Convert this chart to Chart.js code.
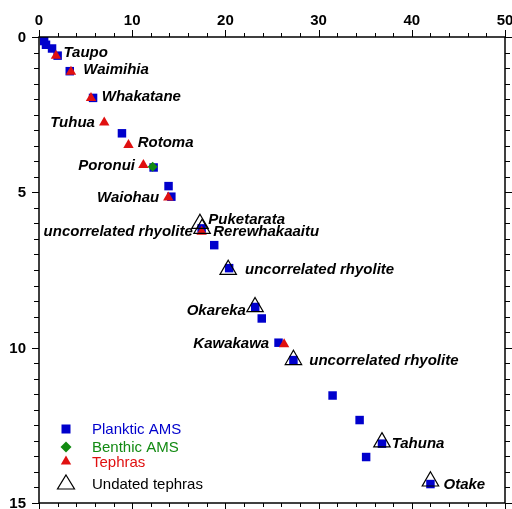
<!DOCTYPE html>
<html>
<head>
<meta charset="utf-8">
<script src="https://cdn.jsdelivr.net/npm/chart.js@4/dist/chart.umd.min.js"></script>
<style>
  html, body { margin: 0; padding: 0; background: #fff; }
  canvas { display: block; }
</style>
</head>
<body>
<canvas id="myChart" width="512" height="509"></canvas>
<script>
// datos (x arriba, y invertido)
const plankticX = [0.55, 0.75, 1.4, 2.0, 3.3, 5.8, 8.9, 12.3, 13.9, 14.2, 17.45, 18.8, 20.4, 23.2, 23.9, 25.7, 27.3, 31.5, 34.4, 36.8, 35.1, 42.0];
const plankticY = [0.13, 0.25, 0.37, 0.6, 1.1, 1.96, 3.1, 4.2, 4.8, 5.14, 6.16, 6.7, 7.44, 8.69, 9.06, 9.84, 10.4, 11.54, 12.33, 13.09, 13.52, 14.39];

const benthicX = [12.2];
const benthicY = [4.18];

const tephraX = [1.82, 3.43, 5.58, 7.0, 9.6, 11.2, 13.87, 17.45, 26.3];
const tephraY = [0.6, 1.12, 1.96, 2.75, 3.48, 4.12, 5.17, 6.27, 9.89];

const undatedX = [17.27, 17.5, 20.3, 23.18, 27.3, 36.8, 42.0];
const undatedY = [6.01, 6.17, 7.49, 8.69, 10.39, 13.04, 14.3];

const xTickLabels = [0, 10, 20, 30, 40, 50];
const yTickLabels = [0, 5, 10, 15];

// nombres de las tefras y donde van
const labelText = ['Taupo', 'Waimihia', 'Whakatane', 'Tuhua', 'Rotoma', 'Poronui', 'Waiohau', 'Puketarata', 'Rerewhakaaitu', 'uncorrelated rhyolite', 'uncorrelated rhyolite', 'Okareka', 'Kawakawa', 'uncorrelated rhyolite', 'Tahuna', 'Otake'];
const labelX = [2.63, 4.75, 6.73, 6.0, 10.59, 10.3, 12.9, 18.17, 18.7, 16.5, 22.1, 22.2, 24.7, 29.0, 37.84, 43.4];
const labelY = [0.5, 1.07, 1.93, 2.77, 3.4, 4.15, 5.17, 5.9, 6.28, 6.28, 7.48, 8.8, 9.87, 10.44, 13.09, 14.4];
const labelAlign = ['left', 'left', 'left', 'right', 'left', 'right', 'right', 'left', 'left', 'right', 'left', 'right', 'right', 'left', 'left', 'left'];

const legendNames = ['Planktic AMS', 'Benthic AMS', 'Tephras', 'Undated tephras'];

const azul = '#0000cc';
const verde = '#128a12';
const rojo = '#e01010';

const toPts = (xs, ys) => xs.map((x, i) => ({ x: x, y: ys[i] }));

// caja, ticks, numeros de ejes, etiquetas y leyenda
const extras = {
    id: 'extras',
    afterDraw(chart) {
        const { ctx, chartArea: a, scales } = chart;
        const sx = scales.x, sy = scales.y;
        ctx.save();
        ctx.strokeStyle = '#000';
        ctx.lineWidth = 1.5;
        ctx.strokeRect(a.left, a.top, a.right - a.left, a.bottom - a.top);

        ctx.lineWidth = 1;
        ctx.beginPath();
        for (let v = 0; v <= 50; v += 2) {
            const p = Math.round(sx.getPixelForValue(v)) + 0.5;
            const len = v % 10 === 0 ? 7 : 4;
            ctx.moveTo(p, a.top); ctx.lineTo(p, a.top - len);
            ctx.moveTo(p, a.bottom); ctx.lineTo(p, a.bottom + len);
        }
        for (let k = 0; k <= 30; k++) {
            const v = k / 2;
            const p = Math.round(sy.getPixelForValue(v)) + 0.5;
            const len = k % 10 === 0 ? 7 : 5;
            ctx.moveTo(a.left, p); ctx.lineTo(a.left - len, p);
            ctx.moveTo(a.right, p); ctx.lineTo(a.right + len, p);
        }
        ctx.stroke();

        // numeros de los ejes
        ctx.fillStyle = '#000';
        ctx.font = 'bold 15px "Liberation Sans", Arial, sans-serif';
        ctx.textBaseline = 'middle';
        ctx.textAlign = 'center';
        xTickLabels.forEach(v => ctx.fillText(String(v), sx.getPixelForValue(v), a.top - 16));
        ctx.textAlign = 'right';
        yTickLabels.forEach(v => ctx.fillText(String(v), a.left - 13, sy.getPixelForValue(v) + 1));

        ctx.font = 'italic bold 15px "Liberation Sans", Arial, sans-serif';
        labelText.forEach((t, i) => {
            ctx.textAlign = labelAlign[i];
            ctx.fillText(t, sx.getPixelForValue(labelX[i]), sy.getPixelForValue(labelY[i]));
        });

        // leyenda
        const mx = 66, tx = 92;
        const filas = [429, 447, 461.5, 484];
        const colores = [azul, verde, rojo, '#000'];
        ctx.font = '15px "Liberation Sans", Arial, sans-serif';
        ctx.textAlign = 'left';
        filas.forEach((y, i) => {
            ctx.fillStyle = colores[i];
            ctx.fillText(legendNames[i], tx, y + 1);
        });
        ctx.fillStyle = azul;
        ctx.fillRect(mx - 4.5, filas[0] - 4.5, 9, 9);
        ctx.fillStyle = verde;
        ctx.beginPath();
        ctx.moveTo(mx, filas[1] - 5.5); ctx.lineTo(mx + 5.5, filas[1]);
        ctx.lineTo(mx, filas[1] + 5.5); ctx.lineTo(mx - 5.5, filas[1]);
        ctx.closePath(); ctx.fill();
        ctx.fillStyle = rojo;
        ctx.beginPath();
        ctx.moveTo(mx, filas[2] - 6); ctx.lineTo(mx + 5.2, filas[2] + 3);
        ctx.lineTo(mx - 5.2, filas[2] + 3); ctx.closePath(); ctx.fill();
        ctx.strokeStyle = '#000';
        ctx.lineWidth = 1.2;
        ctx.beginPath();
        ctx.moveTo(mx, filas[3] - 9); ctx.lineTo(mx + 8.5, filas[3] + 5);
        ctx.lineTo(mx - 8.5, filas[3] + 5); ctx.closePath(); ctx.stroke();
        ctx.restore();
    }
};

const ctx = document.getElementById('myChart');

new Chart(ctx, {
    type: 'scatter',
    data: {
        datasets: [
            {
                label: legendNames[0],
                data: toPts(plankticX, plankticY),
                pointStyle: 'rect',
                pointRadius: 6,
                backgroundColor: azul,
                borderColor: azul,
                borderWidth: 0,
                order: 4
            },
            {
                label: legendNames[1],
                data: toPts(benthicX, benthicY),
                pointStyle: 'rectRot',
                pointRadius: 5,
                backgroundColor: verde,
                borderColor: verde,
                borderWidth: 0,
                order: 2
            },
            {
                label: legendNames[2],
                data: toPts(tephraX, tephraY),
                pointStyle: 'triangle',
                pointRadius: 6,
                backgroundColor: rojo,
                borderColor: rojo,
                borderWidth: 0,
                order: 3
            },
            {
                label: legendNames[3],
                data: toPts(undatedX, undatedY),
                pointStyle: 'triangle',
                pointRadius: 9.5,
                backgroundColor: 'rgba(0,0,0,0)',
                borderColor: '#000',
                borderWidth: 1.2,
                order: 1
            }
        ]
    },
    options: {
        responsive: false,
        animation: false,
        events: [],
        layout: { autoPadding: false, padding: { top: 0, left: 0, right: 7, bottom: 6 } },
        plugins: {
            legend: { display: false },
            tooltip: { enabled: false }
        },
        scales: {
            x: {
                type: 'linear',
                position: 'top',
                min: 0, max: 50,
                afterBuildTicks: s => { s.ticks = xTickLabels.map(v => ({ value: v })); },
                afterFit: s => { s.height = 37; },
                grid: { display: false, drawTicks: false },
                border: { display: false },
                ticks: { display: false }
            },
            y: {
                type: 'linear',
                position: 'left',
                reverse: true,
                min: 0, max: 15,
                afterBuildTicks: s => { s.ticks = yTickLabels.map(v => ({ value: v })); },
                afterFit: s => { s.width = 39; },
                grid: { display: false, drawTicks: false },
                border: { display: false },
                ticks: { display: false }
            }
        }
    },
    plugins: [extras]
});
</script>
</body>
</html>
